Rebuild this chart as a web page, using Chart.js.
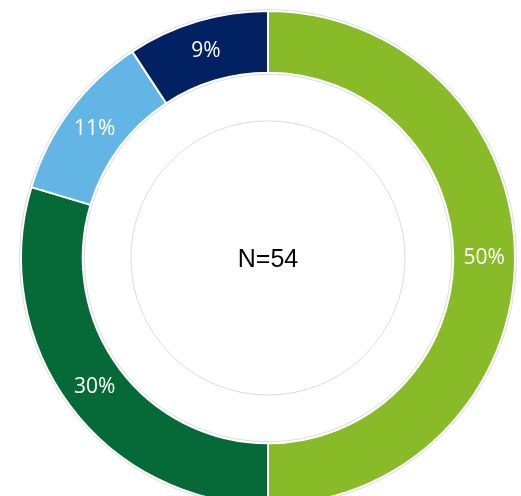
<!DOCTYPE html>
<html>
<head>
<meta charset="utf-8">
<script src="https://cdn.jsdelivr.net/npm/chart.js@4"></script>
<style>
  html, body { margin: 0; padding: 0; background: #fff; overflow: hidden; }
  #wrap { width: 521px; height: 496px; overflow: hidden; }
</style>
</head>
<body>
<div id="wrap"><canvas id="chart" width="521" height="506"></canvas></div>
<script>
// Réponses (N=54)
const categories = ["Catégorie A", "Catégorie B", "Catégorie C", "Catégorie D"];
const counts = [27, 16, 6, 5];
const sliceLabels = ["50%", "30%", "11%", "9%"];
const colors = ["#89BB29", "#056A37", "#62B5E5", "#012163"];
const centerText = "N=54";

// anneaux gris fins + libellés + texte central
const decorPlugin = {
  id: "decor",
  afterDatasetsDraw(chart) {
    const ctx = chart.ctx;
    const arcs = chart.getDatasetMeta(0).data;
    const a0 = arcs[0];
    const cx = a0.x, cy = a0.y;
    const outer = a0.outerRadius, inner = a0.innerRadius;

    ctx.save();
    ctx.strokeStyle = "#dcdcdc";
    ctx.lineWidth = 1;
    [outer + 1.5, inner - 1.5, outer * 0.555].forEach((r) => {
      ctx.beginPath();
      ctx.arc(cx, cy, r, 0, Math.PI * 2);
      ctx.stroke();
    });

    ctx.fillStyle = "#ffffff";
    ctx.font = "21px 'Open Sans', sans-serif";
    ctx.textAlign = "center";
    ctx.textBaseline = "middle";
    arcs.forEach((arc, i) => {
      const p = arc.tooltipPosition();
      ctx.fillText(sliceLabels[i], p.x, p.y);
    });

    ctx.fillStyle = "#000000";
    ctx.font = "25px 'Liberation Sans', Arial, sans-serif";
    ctx.fillText(centerText, cx, cy + 2);
    ctx.restore();
  },
};

new Chart(document.getElementById("chart"), {
  type: "doughnut",
  data: {
    labels: categories,
    datasets: [
      {
        data: counts,
        backgroundColor: colors,
        borderColor: "#ffffff",
        borderWidth: 2,
      },
    ],
  },
  options: {
    responsive: false,
    animation: false,
    cutout: "75%",
    layout: { padding: { top: 10, left: 15, right: 0, bottom: 0 } },
    plugins: {
      legend: { display: false },
      tooltip: { enabled: false },
    },
  },
  plugins: [decorPlugin],
});
</script>
</body>
</html>
